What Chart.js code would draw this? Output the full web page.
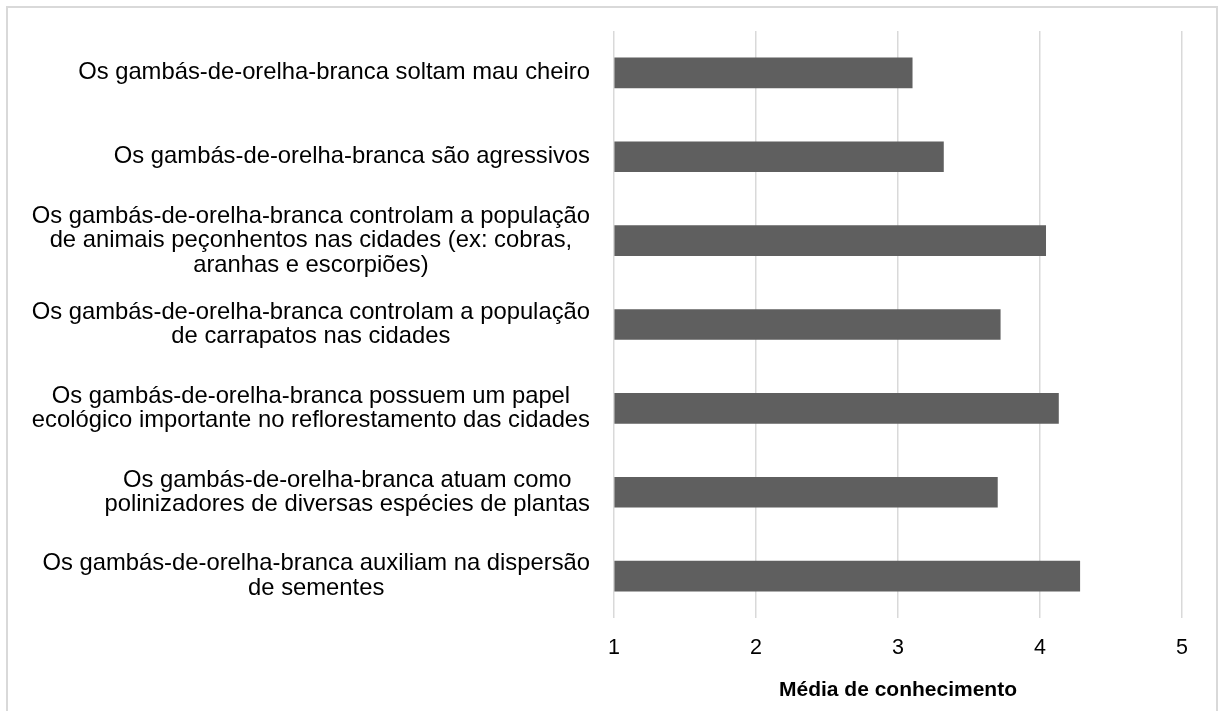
<!DOCTYPE html>
<html>
<head>
<meta charset="utf-8">
<script src="https://cdn.jsdelivr.net/npm/chart.js@4"></script>
<style>
    body { margin: 0; overflow: hidden; background: #fff; }
    #frame { position: absolute; left: 6px; top: 6px; width: 1208px; height: 720px; border: 2px solid #d9d9d9; }
    #wrap { position: absolute; left: 0; top: 0; width: 1218px; height: 711px; }
</style>
</head>
<body>
<div id="frame"></div>
<div id="wrap"><canvas id="chart"></canvas></div>
<script>
// categorias (rótulos do eixo y, já quebrados em linhas)
const categories = [
    'Os gambás-de-orelha-branca soltam mau cheiro',
    'Os gambás-de-orelha-branca são agressivos',
    ['Os gambás-de-orelha-branca controlam a população', 'de animais peçonhentos nas cidades (ex: cobras,', 'aranhas e escorpiões)'],
    ['Os gambás-de-orelha-branca controlam a população', 'de carrapatos nas cidades'],
    ['Os gambás-de-orelha-branca possuem um papel', 'ecológico importante no reflorestamento das cidades'],
    ['Os gambás-de-orelha-branca atuam como', 'polinizadores de diversas espécies de plantas'],
    ['Os gambás-de-orelha-branca auxiliam na dispersão', 'de sementes']
];

// média de conhecimento por afirmação
const means = [3.10, 3.32, 4.04, 3.72, 4.13, 3.70, 4.28];

const xTicks = [1, 2, 3, 4, 5];
const xTitle = 'Média de conhecimento';

const FONT = '"Liberation Sans", Arial, sans-serif';

// desenha os rótulos do eixo y: bloco alinhado à direita, linhas centralizadas
const blockLabels = {
    id: 'blockLabels',
    afterDraw(chart) {
        const ctx = chart.ctx;
        const y = chart.scales.y;
        ctx.save();
        ctx.font = '23.8px ' + FONT;
        ctx.fillStyle = '#000';
        ctx.textAlign = 'center';
        ctx.textBaseline = 'middle';
        chart.data.labels.forEach((label, i) => {
            const lines = Array.isArray(label) ? label : [label];
            const w = Math.max(...lines.map(l => ctx.measureText(l).width));
            const cx = y.right - 24 - w / 2;
            const cy = y.getPixelForValue(i);
            lines.forEach((line, j) => {
                ctx.fillText(line, cx, cy + (j - (lines.length - 1) / 2) * 24.5);
            });
        });
        ctx.restore();
    }
};

new Chart(document.getElementById('chart'), {
    type: 'bar',
    data: {
        labels: categories,
        datasets: [{
            label: xTitle,
            data: means,
            base: 1,
            backgroundColor: '#5f5f5f',
            barThickness: 30
        }]
    },
    options: {
        indexAxis: 'y',
        responsive: true,
        maintainAspectRatio: false,
        animation: false,
        layout: {
            padding: { top: 31, right: 36, bottom: 0, left: 0 }
        },
        scales: {
            x: {
                min: 1,
                max: 5,
                afterBuildTicks: (scale) => {
                    scale.ticks = xTicks.map(v => ({ value: v }));
                },
                afterFit: (scale) => {
                    scale.height = 93;
                },
                grid: { color: '#d9d9d9', lineWidth: 1.5, drawTicks: false },
                border: { display: false },
                ticks: {
                    color: '#000',
                    padding: 17,
                    font: { family: FONT, size: 21.5 }
                },
                title: {
                    display: true,
                    text: xTitle,
                    color: '#000',
                    padding: { top: 0, bottom: 8 },
                    font: { family: FONT, size: 21, weight: 'bold' }
                }
            },
            y: {
                grid: { display: false },
                border: { display: false },
                ticks: { display: false },
                afterFit: (scale) => {
                    scale.width = 614;
                }
            }
        },
        plugins: {
            legend: { display: false },
            tooltip: { enabled: false }
        }
    },
    plugins: [blockLabels]
});
</script>
</body>
</html>
